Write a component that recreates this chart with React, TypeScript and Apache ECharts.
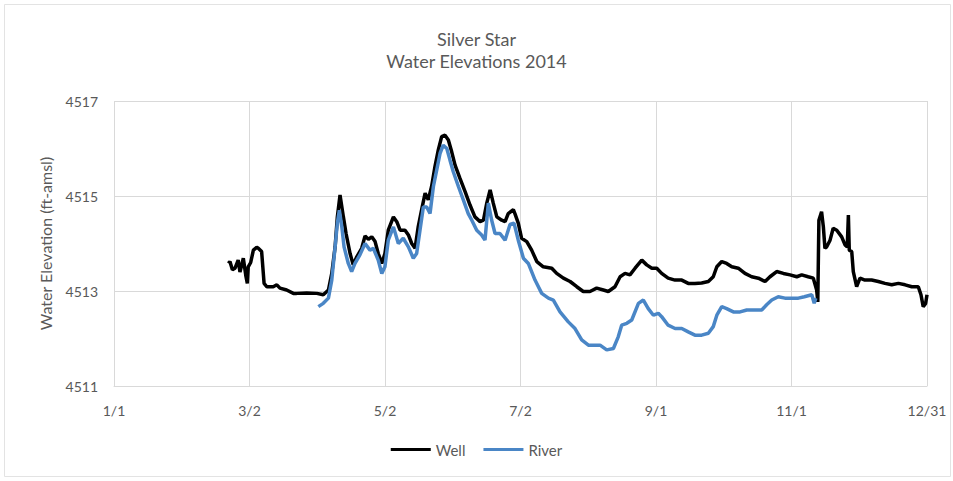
import React, { useEffect, useRef } from "react";
import * as echarts from "echarts";

const chartTitle = "Silver Star\nWater Elevations 2014";
const yAxisTitle = "Water Elevation (ft-amsl)";
const xTickLabels = ["1/1", "3/2", "5/2", "7/2", "9/1", "11/1", "12/31"];
const seriesNames = ["Well", "River"];

// [day of year offset from 1/1, elevation ft]
const well: [number, number][] = [
  [51.2,4513.58],[51.9,4513.62],[53.0,4513.45],[54.2,4513.48],[55.6,4513.65],[56.4,4513.40],[57.2,4513.55],[57.9,4513.69],[59.1,4513.30],[59.7,4513.16],[60.1,4513.51],[61.2,4513.60],[62.4,4513.86],[63.9,4513.92],[64.6,4513.90],[66.1,4513.83],[67.2,4513.16],[68.4,4513.09],[71.3,4513.09],[72.9,4513.13],[74.3,4513.06],[77.3,4513.02],[80.3,4512.95],[81.8,4512.95],[86.3,4512.96],[90.8,4512.95],[93.7,4512.92],[96.0,4513.02],[97.5,4513.37],[99.0,4513.93],[100.0,4514.56],[101.2,4515.02],[102.7,4514.56],[103.9,4514.21],[105.7,4513.79],[107.1,4513.55],[108.7,4513.72],[110.9,4513.90],[112.4,4514.16],[113.9,4514.09],[115.4,4514.14],[116.9,4514.04],[118.3,4513.79],[119.9,4513.58],[121.3,4513.79],[122.8,4514.28],[125.1,4514.56],[126.6,4514.46],[128.1,4514.28],[130.3,4514.28],[131.8,4514.18],[133.3,4514.00],[134.8,4513.90],[136.2,4514.35],[138.0,4514.77],[139.3,4515.06],[140.7,4514.92],[142.2,4515.20],[143.7,4515.62],[145.2,4515.97],[146.7,4516.25],[148.2,4516.28],[149.7,4516.18],[151.2,4515.93],[152.7,4515.65],[154.9,4515.37],[157.2,4515.09],[159.4,4514.81],[161.6,4514.56],[163.9,4514.46],[165.4,4514.49],[166.9,4514.85],[168.4,4515.13],[169.8,4514.85],[171.4,4514.56],[173.6,4514.49],[175.1,4514.46],[176.5,4514.63],[178.8,4514.71],[179.5,4514.63],[181.0,4514.43],[182.5,4514.11],[184.8,4514.04],[187.0,4513.86],[189.3,4513.62],[192.2,4513.51],[196.0,4513.48],[198.2,4513.37],[201.2,4513.27],[204.2,4513.20],[207.2,4513.09],[210.1,4512.99],[213.1,4512.99],[216.1,4513.06],[219.1,4513.02],[221.3,4512.99],[224.3,4513.09],[226.6,4513.30],[228.8,4513.37],[231.0,4513.34],[233.3,4513.48],[236.3,4513.65],[238.5,4513.55],[240.8,4513.48],[243.0,4513.48],[245.2,4513.37],[248.1,4513.27],[251.2,4513.23],[254.2,4513.23],[257.1,4513.16],[260.1,4513.16],[263.1,4513.17],[266.1,4513.20],[268.3,4513.30],[269.9,4513.51],[272.1,4513.62],[274.3,4513.58],[276.6,4513.51],[279.5,4513.48],[282.5,4513.37],[285.5,4513.30],[288.5,4513.27],[291.5,4513.20],[293.7,4513.30],[296.7,4513.41],[299.7,4513.37],[302.7,4513.34],[305.7,4513.30],[307.9,4513.34],[310.8,4513.30],[313.1,4513.27],[314.6,4513.02],[315.1,4512.77],[315.6,4514.49],[316.8,4514.67],[317.6,4514.35],[318.3,4513.90],[319.1,4513.93],[320.6,4514.07],[322.0,4514.32],[323.6,4514.28],[325.8,4514.14],[327.3,4513.97],[328.3,4513.93],[328.8,4514.60],[329.2,4513.86],[330.3,4513.83],[331.0,4513.41],[332.5,4513.09],[334.0,4513.27],[336.2,4513.23],[339.2,4513.23],[342.2,4513.20],[345.2,4513.16],[348.2,4513.13],[351.2,4513.16],[354.2,4513.13],[357.2,4513.09],[360.1,4513.09],[361.3,4512.92],[362.3,4512.67],[363.4,4512.74],[364.0,4512.92]
];

const river: [number, number][] = [
  [91.5,4512.67],[93.7,4512.74],[96.0,4512.85],[97.5,4513.23],[99.0,4513.93],[100.0,4514.43],[100.9,4514.70],[102.0,4514.35],[103.0,4513.93],[104.9,4513.58],[106.4,4513.41],[107.9,4513.58],[110.1,4513.76],[112.4,4514.00],[114.6,4513.86],[116.1,4513.90],[118.3,4513.65],[119.9,4513.37],[121.3,4513.51],[122.8,4514.07],[125.1,4514.35],[127.3,4514.00],[129.5,4514.11],[131.8,4513.93],[134.0,4513.69],[135.5,4513.79],[137.0,4514.28],[138.5,4514.77],[140.0,4514.77],[141.5,4514.63],[143.0,4515.20],[144.5,4515.55],[146.0,4515.90],[147.4,4516.07],[149.0,4516.00],[150.4,4515.76],[151.9,4515.51],[154.2,4515.20],[156.4,4514.92],[158.6,4514.63],[160.2,4514.49],[162.4,4514.28],[164.6,4514.18],[166.1,4514.07],[167.6,4514.85],[169.1,4514.49],[170.6,4514.21],[172.8,4514.21],[175.1,4514.07],[177.3,4514.40],[179.1,4514.43],[181.0,4514.07],[183.3,4513.69],[185.5,4513.58],[188.5,4513.23],[191.5,4512.95],[194.5,4512.85],[196.7,4512.81],[199.7,4512.56],[203.4,4512.35],[206.4,4512.21],[209.4,4511.97],[212.4,4511.86],[215.4,4511.86],[217.6,4511.86],[220.6,4511.76],[223.6,4511.79],[225.8,4512.04],[227.3,4512.28],[229.6,4512.32],[231.8,4512.39],[234.8,4512.74],[237.0,4512.81],[239.2,4512.63],[241.5,4512.49],[243.7,4512.53],[245.2,4512.46],[248.1,4512.28],[251.2,4512.21],[254.2,4512.21],[257.1,4512.14],[260.1,4512.07],[263.1,4512.07],[266.1,4512.11],[268.3,4512.25],[269.9,4512.49],[272.1,4512.67],[274.3,4512.63],[277.3,4512.56],[280.3,4512.56],[283.3,4512.60],[286.2,4512.60],[290.0,4512.60],[292.2,4512.71],[294.5,4512.81],[297.4,4512.88],[300.4,4512.85],[303.4,4512.85],[306.4,4512.85],[309.1,4512.88],[312.4,4512.92],[313.5,4512.74],[314.2,4512.85]
];

const X_MAX = 364;
const X_STEP = X_MAX / 6;

export default function App() {
  const ref = useRef<HTMLDivElement>(null);
  useEffect(() => {
    if (!ref.current) return;
    const chart = echarts.init(ref.current, null, { renderer: "svg" });
    const font = "Lato, 'Open Sans', sans-serif";
    chart.setOption({
      animation: false,
      backgroundColor: "#ffffff",
      textStyle: { fontFamily: font },
      title: {
        text: chartTitle,
        left: "center",
        top: 23,
        textStyle: { fontFamily: font, fontSize: 18, fontWeight: "normal", color: "#595959", lineHeight: 22 },
      },
      graphic: [
        { type: "rect", shape: { x: 4.5, y: 4.5, width: 946, height: 472 }, style: { fill: "none", stroke: "#e3e3e3", lineWidth: 1 }, silent: true },
      ],
      legend: {
        data: seriesNames,
        bottom: 19,
        left: "center",
        icon: "rect",
        itemWidth: 40,
        itemHeight: 3,
        itemGap: 18,
        textStyle: { fontFamily: font, fontSize: 15, color: "#595959" },
      },
      grid: { left: 114, top: 101, width: 813, height: 285, containLabel: false },
      xAxis: {
        type: "value",
        min: 0,
        max: X_MAX,
        interval: X_STEP,
        axisLine: { show: true, lineStyle: { color: "#d9d9d9" } },
        axisTick: { show: false },
        axisLabel: {
          color: "#595959",
          fontSize: 14,
          fontFamily: font,
          margin: 17,
          formatter: (v: number) => xTickLabels[Math.round(v / X_STEP)] ?? "",
        },
        splitLine: { show: true, lineStyle: { color: "#d9d9d9", width: 1 } },
      },
      yAxis: {
        type: "value",
        min: 4511,
        max: 4517,
        interval: 2,
        name: yAxisTitle,
        nameLocation: "middle",
        nameGap: 61,
        nameTextStyle: { fontFamily: font, fontSize: 16, color: "#595959" },
        axisLine: { show: false },
        axisTick: { show: false },
        axisLabel: {
          color: "#595959",
          fontSize: 14,
          fontFamily: font,
          margin: 16,
          formatter: (v: number) => String(v),
        },
        splitLine: { show: true, lineStyle: { color: "#d9d9d9", width: 1 } },
      },
      series: [
        {
          name: seriesNames[0],
          type: "line",
          data: well,
          showSymbol: false,
          lineStyle: { color: "#000000", width: 3.5 },
          itemStyle: { color: "#000000" },
        },
        {
          name: seriesNames[1],
          type: "line",
          data: river,
          showSymbol: false,
          lineStyle: { color: "#4a86c6", width: 3.5 },
          itemStyle: { color: "#4a86c6" },
        },
      ],
    });
    return () => chart.dispose();
  }, []);
  return <div ref={ref} style={{ position: "absolute", left: 0, top: 0, width: 953, height: 481 }} />;
}
